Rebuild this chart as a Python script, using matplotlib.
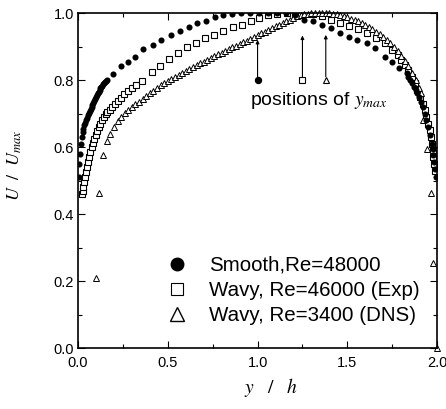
import matplotlib
matplotlib.use("Agg")
import matplotlib.pyplot as plt
from matplotlib.lines import Line2D

plt.rcParams['font.family'] = ['Liberation Sans', 'DejaVu Sans']
plt.rcParams['mathtext.fontset'] = 'stix'

# Smooth, Re=48000 (filled circles)
smooth_x = [0.003, 0.006, 0.01, 0.015, 0.02, 0.025, 0.03, 0.035, 0.04, 0.045, 0.05, 0.055,
            0.06, 0.065, 0.07, 0.075, 0.08, 0.085, 0.09, 0.095, 0.10, 0.105, 0.11, 0.115,
            0.12, 0.125, 0.13, 0.135, 0.14, 0.145, 0.15, 0.155, 0.16,
            0.195, 0.238, 0.279, 0.316, 0.364, 0.416, 0.464, 0.518, 0.568, 0.618, 0.665,
            0.715, 0.765, 0.81, 0.86, 0.91, 0.96, 1.01, 1.06, 1.11, 1.16, 1.21,
            1.26, 1.31, 1.36, 1.41, 1.46, 1.51, 1.556, 1.608, 1.655, 1.71, 1.748, 1.79,
            1.83, 1.84, 1.85, 1.86, 1.87, 1.88, 1.89, 1.90, 1.91, 1.92, 1.93, 1.94, 1.95,
            1.96, 1.97, 1.975, 1.98, 1.985, 1.99, 1.995]
smooth_u = [0.51, 0.55, 0.58, 0.61, 0.63, 0.645, 0.655, 0.665, 0.673, 0.68, 0.688, 0.695,
            0.702, 0.708, 0.714, 0.72, 0.726, 0.732, 0.738, 0.744, 0.75, 0.755, 0.76, 0.765,
            0.77, 0.775, 0.779, 0.783, 0.787, 0.791, 0.795, 0.798, 0.80,
            0.818, 0.842, 0.855, 0.87, 0.893, 0.904, 0.921, 0.936, 0.947, 0.959, 0.97,
            0.977, 0.987, 0.993, 0.997, 1.0, 1.0, 1.0, 1.0, 1.0, 1.0, 0.995,
            0.98, 0.975, 0.964, 0.954, 0.942, 0.93, 0.919, 0.91, 0.895, 0.87, 0.855, 0.835,
            0.82, 0.81, 0.80, 0.79, 0.78, 0.77, 0.76, 0.75, 0.735, 0.72, 0.70, 0.68, 0.66,
            0.635, 0.61, 0.595, 0.575, 0.555, 0.535, 0.51]

# Wavy, Re=46000 (Exp) (open squares)
exp_x = [0.02, 0.025, 0.03, 0.035, 0.04, 0.045, 0.05, 0.056, 0.062, 0.068, 0.075, 0.082,
         0.09, 0.098, 0.106, 0.115, 0.124, 0.133, 0.143, 0.153, 0.164, 0.177, 0.19, 0.205,
         0.222, 0.24, 0.258, 0.278, 0.30, 0.325, 0.355,
         0.41, 0.457, 0.509, 0.559, 0.606, 0.657, 0.708, 0.758, 0.81, 0.862, 0.912, 0.962,
         1.01, 1.06, 1.11, 1.163, 1.21, 1.26, 1.31, 1.36, 1.41, 1.46, 1.51, 1.56, 1.61,
         1.66, 1.71, 1.75, 1.78, 1.80, 1.82, 1.84, 1.86, 1.875, 1.89, 1.905, 1.92, 1.93,
         1.94, 1.95, 1.96, 1.965, 1.97, 1.975, 1.98, 1.985, 1.99]
exp_u = [0.46, 0.47, 0.48, 0.495, 0.51, 0.525, 0.54, 0.555, 0.57, 0.585, 0.60, 0.612,
         0.625, 0.637, 0.648, 0.66, 0.67, 0.68, 0.69, 0.70, 0.706, 0.712, 0.72, 0.728,
         0.737, 0.747, 0.757, 0.767, 0.775, 0.785, 0.798,
         0.825, 0.842, 0.862, 0.882, 0.898, 0.912, 0.925, 0.934, 0.947, 0.957, 0.964, 0.975,
         0.984, 0.993, 0.997, 0.999, 1.0, 1.0, 0.997, 0.99, 0.98, 0.97, 0.96, 0.952, 0.94,
         0.925, 0.91, 0.89, 0.875, 0.86, 0.845, 0.83, 0.81, 0.79, 0.77, 0.75, 0.73, 0.71,
         0.69, 0.67, 0.65, 0.63, 0.61, 0.59, 0.57, 0.55, 0.53]

# Wavy, Re=3400 (DNS) (open triangles)
dns_x = [0.098, 0.119, 0.141, 0.16,
         0.18, 0.20, 0.22, 0.24, 0.26, 0.28, 0.30, 0.32, 0.34, 0.36, 0.38, 0.40, 0.42, 0.44,
         0.46, 0.48, 0.50, 0.52, 0.54, 0.56, 0.58, 0.60, 0.62, 0.64, 0.66, 0.68, 0.70, 0.72,
         0.74, 0.76, 0.78, 0.80, 0.82, 0.84, 0.86, 0.88, 0.90, 0.92, 0.94, 0.96, 0.98, 1.00,
         1.02, 1.04, 1.06, 1.08, 1.10, 1.12, 1.14, 1.16, 1.18, 1.20, 1.22, 1.24, 1.26, 1.28,
         1.30, 1.32, 1.34, 1.36, 1.38, 1.40, 1.42, 1.44, 1.46, 1.48, 1.50, 1.52, 1.54, 1.56,
         1.58, 1.60, 1.62, 1.64, 1.66, 1.68, 1.70, 1.72, 1.74, 1.76, 1.78, 1.80, 1.82, 1.84,
         1.86, 1.88, 1.90, 1.91,
         1.924, 1.946, 1.965, 1.976, 1.998]
dns_u = [0.21, 0.462, 0.576, 0.619,
         0.64, 0.66, 0.678, 0.69, 0.702, 0.712, 0.72, 0.728, 0.736, 0.744, 0.752, 0.76, 0.768, 0.776,
         0.784, 0.792, 0.798, 0.804, 0.81, 0.816, 0.822, 0.828, 0.833, 0.838, 0.844, 0.85, 0.855, 0.86,
         0.866, 0.872, 0.877, 0.882, 0.887, 0.892, 0.898, 0.903, 0.908, 0.913, 0.918, 0.924, 0.929, 0.935,
         0.94, 0.945, 0.95, 0.955, 0.96, 0.965, 0.97, 0.975, 0.98, 0.985, 0.99, 0.993, 0.996, 0.998,
         1.0, 1.0, 1.0, 1.0, 1.0, 1.0, 0.998, 0.996, 0.993, 0.99, 0.987, 0.983, 0.979, 0.975,
         0.97, 0.965, 0.959, 0.952, 0.945, 0.937, 0.929, 0.92, 0.91, 0.899, 0.887, 0.873, 0.858, 0.841,
         0.821, 0.80, 0.775, 0.76,
         0.68, 0.595, 0.462, 0.255, 0.0]

# positions of y_max
ymax_pos = [1.0, 1.25, 1.38]
ymax_arrow_top = [0.92, 0.933, 0.935]
ymax_marker_u = 0.8

legend_labels = ["Smooth,Re=48000", "Wavy, Re=46000 (Exp)", "Wavy, Re=3400 (DNS)"]

fig = plt.figure(figsize=(4.46, 4.09), dpi=100)
ax = fig.add_axes([0.175, 0.149, 0.805, 0.819])

ax.plot(smooth_x, smooth_u, 'o', color='black', ms=4.4, mew=0, zorder=3)
ax.plot(exp_x, exp_u, 's', mfc='white', mec='black', ms=3.8, mew=0.8, zorder=2)
ax.plot(dns_x, dns_u, '^', mfc='white', mec='black', ms=4.0, mew=0.7, zorder=2, clip_on=False)

# y_max markers and arrows
styles = [dict(marker='o', mfc='black', ms=4.5), dict(marker='s', mfc='white', ms=4.0),
          dict(marker='^', mfc='white', ms=4.5)]
for xp, top, st in zip(ymax_pos, ymax_arrow_top, styles):
    ax.plot([xp], [ymax_marker_u], ls='none', mec='black', mew=0.8, **st)
    ax.annotate('', xy=(xp, top), xytext=(xp, ymax_marker_u + 0.01),
                arrowprops=dict(arrowstyle='-|>', color='black', lw=0.8,
                                mutation_scale=5, shrinkA=0, shrinkB=0))
ax.text(0.958, 0.74, r'positions of $y_{max}$', fontsize=14, va='center', ha='left')

handles = [Line2D([], [], ls='none', marker='o', color='black', ms=9),
           Line2D([], [], ls='none', marker='s', mfc='white', mec='black', ms=8, mew=0.8),
           Line2D([], [], ls='none', marker='^', mfc='white', mec='black', ms=10, mew=1.0)]
ax.legend(handles, legend_labels, loc='lower left', bbox_to_anchor=(0.20, 0.025),
          frameon=False, fontsize=14.8, handletextpad=1.0, labelspacing=0.3,
          handlelength=1.2, borderpad=0.2)

ax.set_xlim(0, 2.0)
ax.set_ylim(0, 1.0)
ax.set_xticks([0, 0.5, 1.0, 1.5, 2.0])
ax.set_xticks([0.25, 0.75, 1.25, 1.75], minor=True)
ax.set_yticks([0, 0.2, 0.4, 0.6, 0.8, 1.0])
ax.set_yticks([0.1, 0.3, 0.5, 0.7, 0.9], minor=True)
ax.xaxis.set_major_formatter(matplotlib.ticker.FormatStrFormatter('%.1f'))
ax.yaxis.set_major_formatter(matplotlib.ticker.FormatStrFormatter('%.1f'))
ax.tick_params(which='both', direction='in', top=True, right=True, labelsize=10.5, width=0.8)
ax.tick_params(which='major', length=5, pad=3)
ax.tick_params(axis='x', which='major', pad=6)
ax.tick_params(which='minor', length=3)
for s in ax.spines.values():
    s.set_linewidth(1.2)

ax.set_xlabel(r'$y\quad/\quad h$', fontsize=14)
ax.xaxis.set_label_coords(0.538, -0.082)
ax.set_ylabel(r'$U\ \ /\ \ U_{max}$', fontsize=13)
ax.yaxis.set_label_coords(-0.15, 0.546)

fig.savefig('out.png', dpi=100)
